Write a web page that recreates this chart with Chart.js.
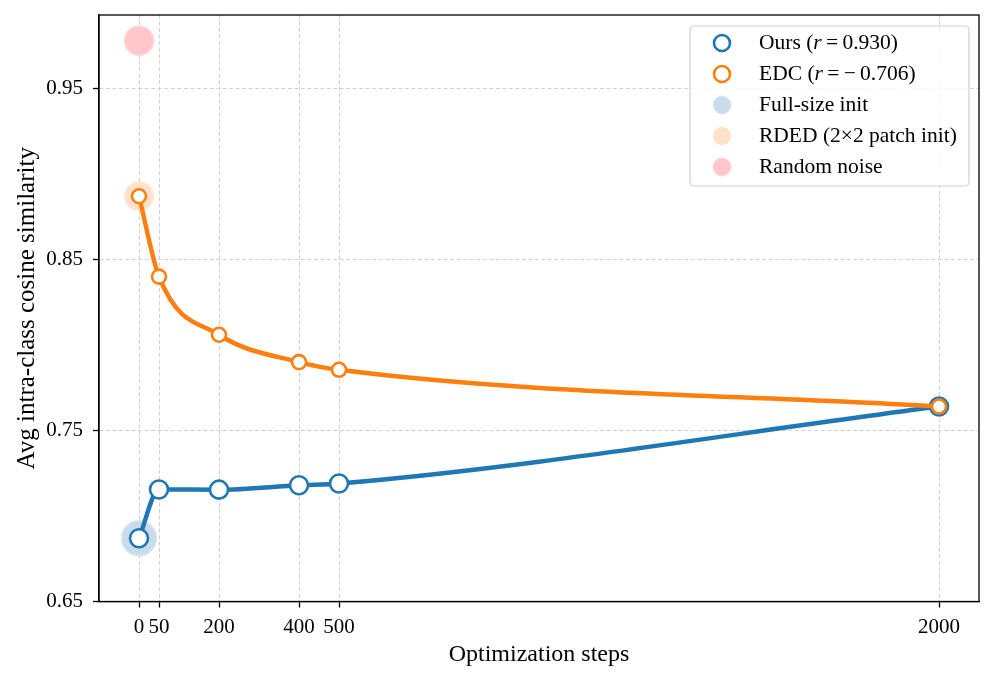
<!DOCTYPE html>
<html><head><meta charset="utf-8">
<script src="https://cdn.jsdelivr.net/npm/chart.js@4.4.1/dist/chart.umd.min.js"></script>
<style>html,body{margin:0;padding:0;background:#fff}#wrap{width:996px;height:682px;position:relative}</style>
</head><body><div id="wrap"><canvas id="c"></canvas></div>
<script>
// ---- data ----
const steps = [0, 50, 200, 400, 500, 2000];
const oursValues = [0.687, 0.7155, 0.7154, 0.718, 0.719, 0.764];
const edcValues = [0.887, 0.840, 0.806, 0.790, 0.7855, 0.764];
const initStep = [0];
const fullSizeInit = [0.687];
const rdedInit = [0.887];
const randomNoise = [0.978];
const xTicks = [0, 50, 200, 400, 500, 2000];
const yTicks = [0.65, 0.75, 0.85, 0.95];
const legendLabels = ['Ours (*r*\u2009=\u20090.930)', 'EDC (*r*\u2009=\u2009\u2212\u20090.706)', 'Full-size init', 'RDED (2\u00d72 patch init)', 'Random noise'];

const BLUE = '#1f77b4', ORANGE = '#ff7f0e';
const FONT = "'Liberation Serif', 'DejaVu Serif', serif";
Chart.defaults.font.family = FONT;
Chart.defaults.color = '#000';

const pts = (xs, ys) => ys.map((y, i) => ({x: xs[i], y}));

const legendItems = [
  {type: 'ring', color: BLUE},
  {type: 'ring', color: ORANGE},
  {type: 'fill', color: '#cadcec', edge: '#dbe7f2'},
  {type: 'fill', color: '#fde2cb', edge: '#feecdc'},
  {type: 'fill', color: '#ffc7ca', edge: '#ffd7d9'}
];

const framePlugin = {
  id: 'frame',
  afterDraw(chart) {
    const {ctx, chartArea: a} = chart;
    ctx.save();
    ctx.strokeStyle = '#000';
    ctx.lineWidth = 1.3;
    ctx.strokeRect(a.left, a.top, a.right - a.left, a.bottom - a.top);
    // legend
    const bx = 690, by = 26, bw = 279, bh = 160, r = 4;
    ctx.beginPath();
    ctx.moveTo(bx + r, by);
    ctx.arcTo(bx + bw, by, bx + bw, by + bh, r);
    ctx.arcTo(bx + bw, by + bh, bx, by + bh, r);
    ctx.arcTo(bx, by + bh, bx, by, r);
    ctx.arcTo(bx, by, bx + bw, by, r);
    ctx.closePath();
    ctx.fillStyle = 'rgba(255,255,255,0.85)';
    ctx.fill();
    ctx.strokeStyle = '#d0d0d0';
    ctx.lineWidth = 1.2;
    ctx.stroke();
    ctx.textBaseline = 'middle';
    legendLabels.forEach((lab, i) => {
      const cy = 43 + i * 31;
      const it = legendItems[i];
      ctx.beginPath();
      ctx.arc(722, cy, it.type === 'ring' ? 8 : 9, 0, Math.PI * 2);
      if (it.type === 'ring') {
        ctx.fillStyle = '#fff'; ctx.fill();
        ctx.strokeStyle = it.color; ctx.lineWidth = 2.6; ctx.stroke();
      } else {
        ctx.fillStyle = it.color; ctx.fill();
        ctx.strokeStyle = it.edge; ctx.lineWidth = 1; ctx.stroke();
      }
      let x = 759;
      lab.split('*').forEach((seg, k) => {
        ctx.font = (k % 2 === 1 ? 'italic ' : '') + '21.5px ' + FONT;
        ctx.fillStyle = '#000';
        ctx.fillText(seg, x, cy);
        x += ctx.measureText(seg).width;
      });
    });
    ctx.restore();
  }
};

new Chart(document.getElementById('c'), {
  type: 'line',
  data: {
    datasets: [
      {label: 'EDC', data: pts(steps, edcValues), borderColor: ORANGE, borderWidth: 4.5,
       cubicInterpolationMode: 'monotone', pointRadius: 7, pointBorderWidth: 2.6,
       pointBackgroundColor: '#fff', pointBorderColor: ORANGE, order: 0},
      {label: 'Ours', data: pts(steps, oursValues), borderColor: BLUE, borderWidth: 4.5,
       cubicInterpolationMode: 'monotone', pointRadius: 9, pointBorderWidth: 2.6,
       pointBackgroundColor: '#fff', pointBorderColor: BLUE, order: 1},
      {label: 'Full-size init', data: pts(initStep, fullSizeInit), showLine: false,
       pointRadius: 17.5, pointBackgroundColor: '#cadcec', pointBorderColor: '#dbe7f2', pointBorderWidth: 1.5, order: 2},
      {label: 'RDED', data: pts(initStep, rdedInit), showLine: false,
       pointRadius: 14.5, pointBackgroundColor: '#fde2cb', pointBorderColor: '#feecdc', pointBorderWidth: 1.5, order: 2},
      {label: 'Random noise', data: pts(initStep, randomNoise), showLine: false,
       pointRadius: 14.5, pointBackgroundColor: '#ffc7ca', pointBorderColor: '#ffd7d9', pointBorderWidth: 1.5, order: 2}
    ]
  },
  options: {
    responsive: true, maintainAspectRatio: false, animation: false,
    layout: {autoPadding: false, padding: {top: 15, right: 17, left: 0, bottom: 0}},
    plugins: {legend: {display: false}, tooltip: {enabled: false}},
    scales: {
      x: {
        type: 'linear', min: -100, max: 2100,
        afterBuildTicks: s => { s.ticks = xTicks.map(v => ({value: v})); },
        afterFit: s => { s.height = 80.5; s.paddingLeft = 0; s.paddingRight = 0; },
        ticks: {font: {size: 21}, padding: 7, maxRotation: 0, autoSkip: false, callback: v => String(v)},
        grid: {color: '#d0d0d0', lineWidth: 1, tickColor: '#000', tickWidth: 1.3, tickLength: 6},
        border: {display: true, color: '#000', width: 1.3, dash: [4, 2.5]},
        title: {display: true, text: 'Optimization steps', font: {size: 24}, padding: {top: 0, bottom: 13}}
      },
      y: {
        min: 0.65, max: 0.993,
        afterBuildTicks: s => { s.ticks = yTicks.map(v => ({value: v})); },
        afterFit: s => { s.width = 99; s.paddingTop = 0; s.paddingBottom = 0; },
        ticks: {font: {size: 21}, padding: 10, callback: v => Number(v).toFixed(2)},
        grid: {color: '#d0d0d0', lineWidth: 1, tickColor: '#000', tickWidth: 1.3, tickLength: 6},
        border: {display: true, color: '#000', width: 1.3, dash: [4, 2.5]},
        title: {display: true, text: 'Avg intra-class cosine similarity', font: {size: 25}, padding: {top: 12, bottom: 0}}
      }
    }
  },
  plugins: [framePlugin]
});
</script></body></html>
